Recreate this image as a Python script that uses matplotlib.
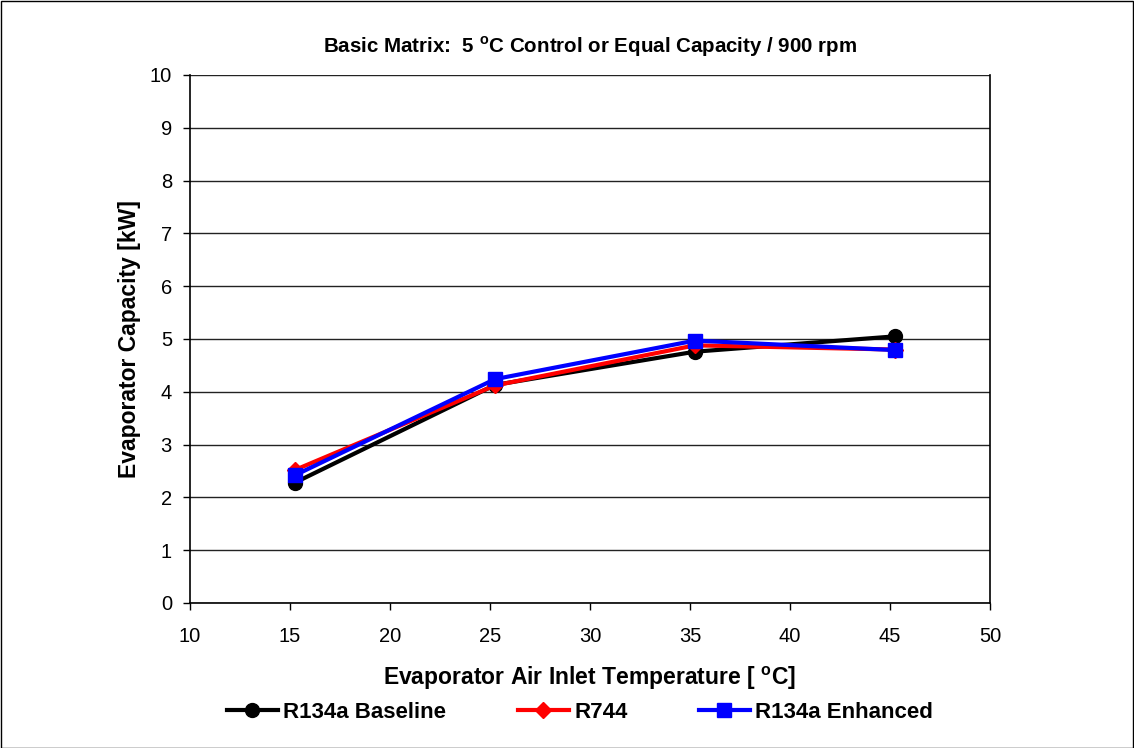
import matplotlib
matplotlib.use('Agg')
import matplotlib.pyplot as plt
from matplotlib.patches import Rectangle

plt.rcParams['font.family'] = ['Liberation Sans', 'DejaVu Sans']
plt.rcParams['mathtext.fontset'] = 'custom'
plt.rcParams['mathtext.rm'] = 'Liberation Sans'
plt.rcParams['mathtext.bf'] = 'Liberation Sans:bold'

# evaporator air inlet temperature [C]
temps = [15.25, 25.25, 35.25, 45.25]
# evaporator capacity [kW]
r134a_base = [2.28, 4.13, 4.76, 5.05]
r744 = [2.52, 4.12, 4.88, 4.80]
r134a_enh = [2.42, 4.24, 4.97, 4.79]

x_ticks = [10, 15, 20, 25, 30, 35, 40, 45, 50]
y_ticks = list(range(0, 11))

fig = plt.figure(figsize=(11.34, 7.48), dpi=100)
ax = fig.add_axes([190 / 1134, 1 - 603 / 748, 800 / 1134, 528 / 748])

ax.plot(temps, r134a_base, color='black', lw=3, marker='o', ms=10,
        label='R134a Baseline', zorder=3)
ax.plot(temps, r744, color='red', lw=3, marker='D', ms=8,
        label='R744', zorder=4)
ax.plot(temps, r134a_enh, color='blue', lw=3, marker='s', ms=10,
        label='R134a Enhanced', zorder=5)

ax.set_xlim(10, 50)
ax.set_ylim(0, 10)
ax.set_xticks(x_ticks)
ax.set_yticks(y_ticks)
ax.tick_params(direction='out', length=5, width=1, labelsize=14.5)
ax.tick_params(axis='x', pad=12)
ax.tick_params(axis='y', pad=8)
ax.yaxis.grid(True, color='#222222', lw=1)
ax.set_axisbelow(True)
ax.spines['top'].set_visible(False)
for s in ('left', 'right', 'bottom'):
    ax.spines[s].set_linewidth(1.2)

ax.set_title(r'Basic Matrix:  5 $^{\mathbf{o}}$C Control or Equal Capacity / 900 rpm',
             fontsize=14.8, fontweight='bold', pad=16)
ax.set_xlabel(r'Evaporator Air Inlet Temperature [ $^{\mathbf{o}}$C]',
              fontsize=16.5, fontweight='bold', labelpad=14)
ax.set_ylabel('Evaporator Capacity [kW]', fontsize=16.5, fontweight='bold',
              labelpad=6)

fig.legend(loc='center', bbox_to_anchor=(580 / 1134, 1 - 712 / 748), ncol=3,
           frameon=False, prop={'size': 16, 'weight': 'bold'},
           handlelength=2.3, handletextpad=0.25, columnspacing=3.2)

fig.patches.append(Rectangle((0.5 / 1134, 0.5 / 748), 1 - 1.5 / 1134, 1 - 1.5 / 748,
                             transform=fig.transFigure, fill=False,
                             edgecolor='black', lw=1))

fig.savefig('out.png', dpi=100)
